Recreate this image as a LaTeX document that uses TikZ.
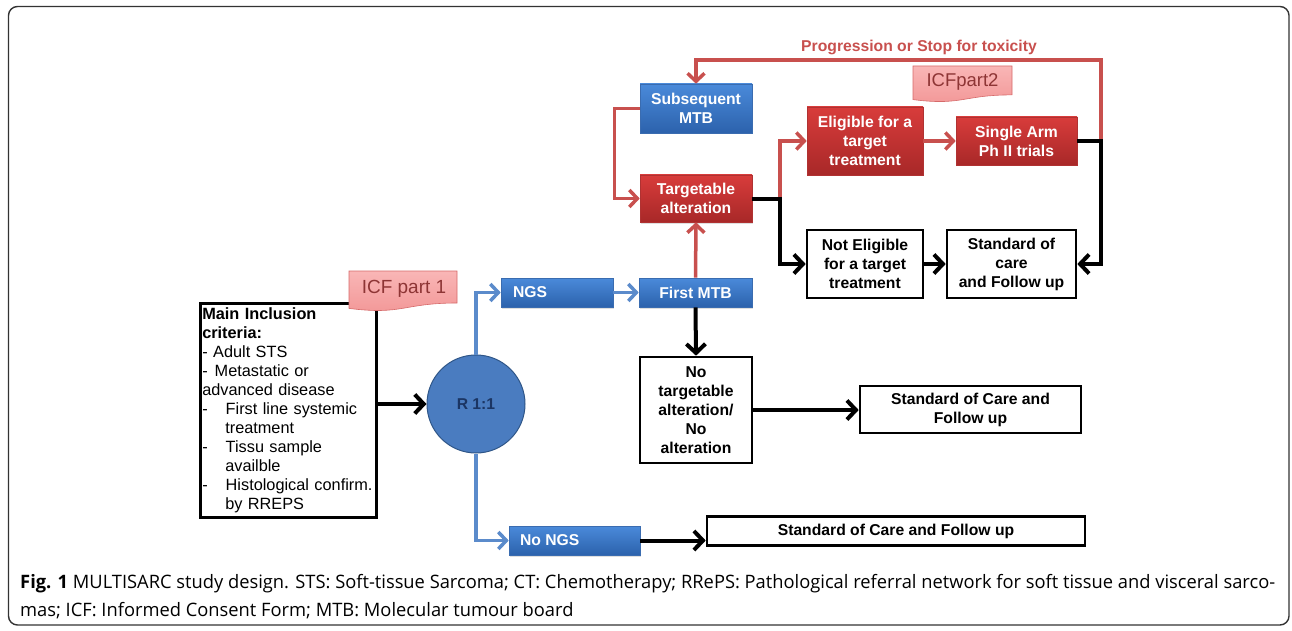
\documentclass[tikz,border=0pt]{standalone}
\usepackage{fontspec}
\setmainfont{Liberation Sans}
\newfontfamily\capfont{Open Sans}
\usetikzlibrary{arrows.meta,shadows}
\definecolor{bluetop}{HTML}{4A8ADA}
\definecolor{bluebot}{HTML}{2C62AC}
\definecolor{blueedge}{HTML}{3A6CB0}
\definecolor{redtop}{HTML}{D83C3B}
\definecolor{redbot}{HTML}{A82828}
\definecolor{rededge}{HTML}{B03232}
\definecolor{blueline}{HTML}{5B8BCB}
\definecolor{redline}{HTML}{C8504E}
\definecolor{circfill}{HTML}{4A7CC0}
\definecolor{circedge}{HTML}{2F5688}
\definecolor{navy}{HTML}{1B3563}
\definecolor{pinktop}{HTML}{F9B6B6}
\definecolor{pinkbot}{HTML}{F29696}
\definecolor{pinkedge}{HTML}{D66A6A}
\definecolor{pinktext}{HTML}{8E3535}
\definecolor{framecol}{HTML}{333333}
\newlength\capwa
\newcommand\capone{\textbf{Fig. 1} MULTISARC study design. STS: Soft-tissue Sarcoma; CT: Chemotherapy; RRePS: Pathological referral network for soft tissue and visceral sarco-}
\begin{document}
\settowidth\capwa{\capfont\fontsize{18.5}{22}\selectfont\capone}
\pgfmathsetmacro\capf{1255/\capwa}
\begin{tikzpicture}[x=1pt,y=-1pt,
  boxfont/.style={font=\bfseries\fontsize{15.7}{19}\selectfont},
  bluebox/.style={boxfont, draw=blueedge, line width=0.6pt, top color=bluetop, bottom color=bluebot,
    text=white, align=center, inner sep=0pt, drop shadow={shadow xshift=1pt, shadow yshift=-1.5pt, opacity=0.25}},
  redbox/.style={boxfont, draw=rededge, line width=0.6pt, top color=redtop, bottom color=redbot,
    text=white, align=center, inner sep=0pt, drop shadow={shadow xshift=1pt, shadow yshift=-1.5pt, opacity=0.25}},
  whitebox/.style={boxfont, draw=black, line width=2.6pt, fill=white, align=center, inner sep=0pt},
  blackarr/.style={draw=black, line width=4pt, -{Straight Barb[length=9pt,width=19pt]}},
  bluearr/.style={draw=blueline, line width=3.5pt, -{Straight Barb[length=8pt,width=17pt]}},
  redarr/.style={draw=redline, line width=3.5pt, -{Straight Barb[length=8pt,width=17pt]}},
  callout/.style={draw=pinkedge, line width=0.6pt, top color=pinktop, bottom color=pinkbot},
  callouttext/.style={text=pinktext, inner sep=0pt},
  capstyle/.style={anchor=base west, inner sep=0pt}
]
\useasboundingbox (0,0) rectangle (1292,631);
\draw[framecol, line width=1.4pt, rounded corners=9pt] (8.5,6.5) rectangle (1289,625);

% nodes
\node[whitebox, anchor=north west, minimum width=176pt, minimum height=214pt, text width=172pt,
  align=left, inner xsep=2pt, font=\fontsize{16.3}{19}\selectfont] (main) at (199,302)
  {\textbf{Main Inclusion}\\\textbf{criteria:}\\- Adult STS\\-\hspace{7pt}Metastatic or\\advanced disease\\-\hspace{18pt}First line systemic\\\hspace{23pt}treatment\\-\hspace{18pt}Tissu sample\\\hspace{23pt}availble\\-\hspace{18pt}Histological confirm.\\\hspace{23pt}by RREPS};

\node[circle, draw=circedge, line width=1pt, fill=circfill, minimum size=98pt, inner sep=0pt,
  text=navy, boxfont] (circ) at (476,404) {R 1:1};

\node[bluebox, minimum width=112pt, minimum height=29pt] (ngs) at (557,292.5) {\makebox[88pt][l]{NGS}};
\node[bluebox, minimum width=113pt, minimum height=29pt] (fmtb) at (695.5,292.5) {First MTB};
\node[bluebox, minimum width=131pt, minimum height=29pt] (nongs) at (574.5,540.5) {\makebox[109pt][l]{No NGS}};
\node[whitebox, minimum width=112pt, minimum height=106pt] (notarg) at (696,410)
  {No\\targetable\\alteration/\\No\\alteration};
\node[whitebox, minimum width=221pt, minimum height=47pt] (soc2) at (970.5,409.5)
  {Standard of Care and\\Follow up};
\node[whitebox, minimum width=378pt, minimum height=29pt] (soc3) at (896,531)
  {Standard of Care and Follow up};

\node[redbox, minimum width=112pt, minimum height=47pt] (targ) at (696,198.5) {Targetable\\alteration};
\node[bluebox, minimum width=112pt, minimum height=49pt] (sub) at (696,108.5) {Subsequent\\MTB};
\node[redbox, minimum width=116pt, minimum height=68pt] (elig) at (865,141) {Eligible for a\\target\\treatment};
\node[redbox, minimum width=121pt, minimum height=48pt] (single) at (1016.5,141) {Single Arm\\Ph II trials};
\node[whitebox, minimum width=116pt, minimum height=68pt] (notelig) at (865,264) {Not Eligible\\for a target\\treatment};
\node[whitebox, minimum width=129pt, minimum height=68pt] (socare) at (1011.5,264) {Standard of\\care\\and Follow up};

\node[boxfont, text=redline, inner sep=0pt] (prog) at (919,47) {Progression or Stop for toxicity};

% callouts
\path[callout] (349,271) -- (457,271) -- (457,303) .. controls (403,303) and (403,315.3) .. (349,308.4) -- cycle;
\node[callouttext, font=\fontsize{19}{22}\selectfont] (icf1) at (404,288.5) {ICF part 1};
\path[callout] (913,66) -- (1012,66) -- (1012,94.9) .. controls (962.5,94.9) and (962.5,105.9) .. (913,99.6) -- cycle;
\node[callouttext, font=\fontsize{18.5}{22}\selectfont] (icf2) at (962.5,81.5) {ICFpart2};

% coordinates
\coordinate (br1) at (780,198.5);
\coordinate (br2) at (1101,141);
\coordinate (topr) at (1101,60);

% connectors
\draw[blackarr] (main.east |- circ.west) -- (circ.west);
\draw[bluearr] (circ.north) |- (ngs.west);
\draw[bluearr] (circ.south) |- (nongs.west);
\draw[bluearr] (ngs.east) -- (fmtb.west);
\draw[redarr] (fmtb.north) -- (targ.south);
\draw[blackarr] (fmtb.south) -- (notarg.north);
\draw[blackarr] (notarg.east) -- (notarg.east -| soc2.west);
\draw[blackarr] (nongs.east) -- (nongs.east -| soc3.west);
\draw[redarr] (sub.west) -- ++(-25,0) |- (targ.west);
\draw[redarr] (br1) |- (elig.west);
\draw[blackarr] (targ.east) -- (br1) |- (notelig.west);
\draw[redarr] (elig.east) -- (single.west);
\draw[redarr] (br2) -- (topr) -| (sub.north);
\draw[blackarr] (single.east) -- (br2) |- (socare.east);
\draw[blackarr] (notelig.east) -- (socare.west);

% caption
\node[capstyle] (cap1) at (20,588) {\scalebox{\capf}[1]{\capfont\fontsize{18.5}{22}\selectfont\capone}};
\node[capstyle] (cap2) at (20,616) {\scalebox{\capf}[1]{\capfont\fontsize{18.5}{22}\selectfont mas; ICF: Informed Consent Form; MTB: Molecular tumour board}};
\end{tikzpicture}
\end{document}
